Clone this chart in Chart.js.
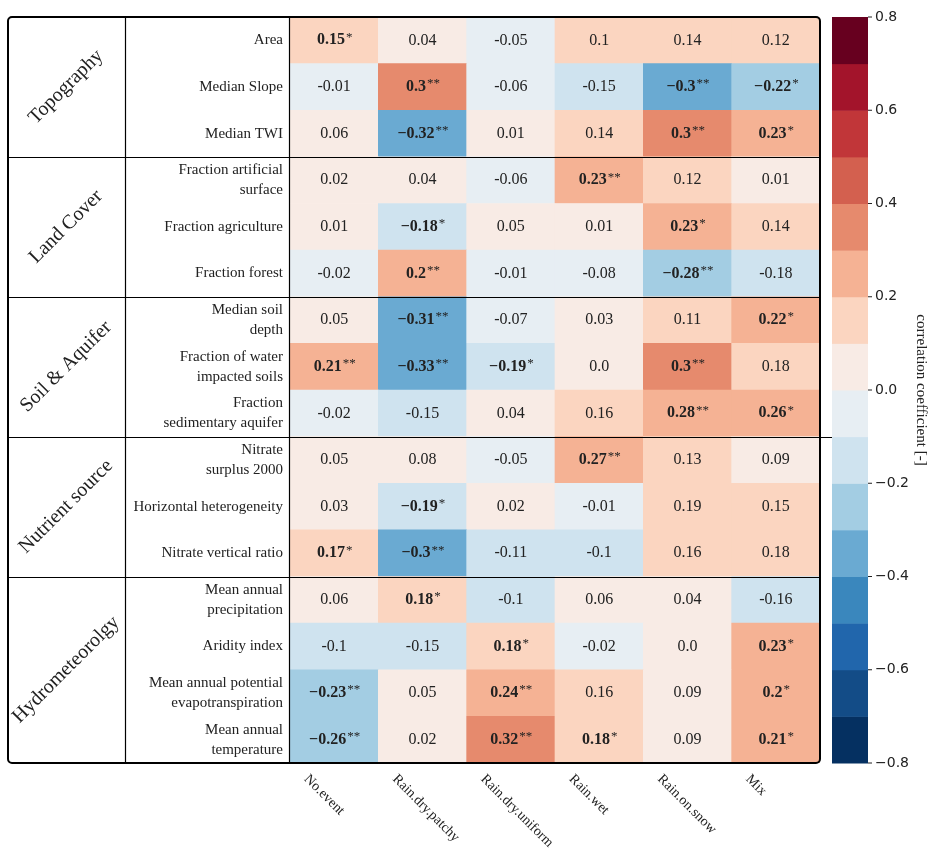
<!DOCTYPE html>
<html><head><meta charset="utf-8">
<script src="https://cdn.jsdelivr.net/npm/chart.js@4.4.0/dist/chart.umd.min.js"></script>
<style>body{margin:0;background:#fff}canvas{display:block}</style>
</head><body>
<canvas id="c" width="929" height="851"></canvas>
<script>
const columns = ['No.event', 'Rain.dry.patchy', 'Rain.dry.uniform', 'Rain.wet', 'Rain.on.snow', 'Mix'];
const rowLabels = [
  ['Area'], ['Median Slope'], ['Median TWI'],
  ['Fraction artificial', 'surface'], ['Fraction agriculture'], ['Fraction forest'],
  ['Median soil', 'depth'], ['Fraction of water', 'impacted soils'], ['Fraction', 'sedimentary aquifer'],
  ['Nitrate', 'surplus 2000'], ['Horizontal heterogeneity'], ['Nitrate vertical ratio'],
  ['Mean annual', 'precipitation'], ['Aridity index'], ['Mean annual potential', 'evapotranspiration'], ['Mean annual', 'temperature']
];
const groups = ['Topography', 'Land Cover', 'Soil & Aquifer', 'Nutrient source', 'Hydrometeorolgy'];
const groupSizes = [3, 3, 3, 3, 4];
const values = [
  [0.15, 0.04, -0.05, 0.1, 0.14, 0.12],
  [-0.01, 0.3, -0.06, -0.15, -0.3, -0.22],
  [0.06, -0.32, 0.01, 0.14, 0.3, 0.23],
  [0.02, 0.04, -0.06, 0.23, 0.12, 0.01],
  [0.01, -0.18, 0.05, 0.01, 0.23, 0.14],
  [-0.02, 0.2, -0.01, -0.08, -0.28, -0.18],
  [0.05, -0.31, -0.07, 0.03, 0.11, 0.22],
  [0.21, -0.33, -0.19, 0.0, 0.3, 0.18],
  [-0.02, -0.15, 0.04, 0.16, 0.28, 0.26],
  [0.05, 0.08, -0.05, 0.27, 0.13, 0.09],
  [0.03, -0.19, 0.02, -0.01, 0.19, 0.15],
  [0.17, -0.3, -0.11, -0.1, 0.16, 0.18],
  [0.06, 0.18, -0.1, 0.06, 0.04, -0.16],
  [-0.1, -0.15, 0.18, -0.02, 0.0, 0.23],
  [-0.23, 0.05, 0.24, 0.16, 0.09, 0.2],
  [-0.26, 0.02, 0.32, 0.18, 0.09, 0.21]
];
const stars = [
  ['*', '', '', '', '', ''],
  ['', '**', '', '', '**', '*'],
  ['', '**', '', '', '**', '*'],
  ['', '', '', '**', '', ''],
  ['', '*', '', '', '*', ''],
  ['', '**', '', '', '**', ''],
  ['', '**', '', '', '', '*'],
  ['**', '**', '*', '', '**', ''],
  ['', '', '', '', '**', '*'],
  ['', '', '', '**', '', ''],
  ['', '*', '', '', '', ''],
  ['*', '**', '', '', '', ''],
  ['', '*', '', '', '', ''],
  ['', '', '*', '', '', '*'],
  ['**', '', '**', '', '', '*'],
  ['**', '', '**', '*', '', '*']
];
const cbTicks = [-0.8, -0.6, -0.4, -0.2, 0.0, 0.2, 0.4, 0.6, 0.8];
// 16 bins from -0.8 to 0.8
const palette = ['#053061', '#134c87', '#2166ac', '#3a87bd', '#6aaad2', '#a3cde3', '#cfe3ef', '#e7eef3',
  '#f8ebe5', '#fbd5c0', '#f5b294', '#e68a6d', '#d3604f', '#c13639', '#a3142b', '#67001f'];

function colorFor(v) {
  let b = v >= 0 ? Math.floor(v * 10 + 1e-9) : Math.floor(v * 10 - 1e-9);
  return palette[Math.max(0, Math.min(15, b + 8))];
}
function fmt(v, bold) {
  if (v === 0) return '0.0';
  if (v < 0 && bold) return '\u2212' + String(-v);
  return String(v);
}

const nRows = values.length;
// stacked bars: dataset k draws row (nRows-1-k) so the first row is on top
const datasets = [];
for (let k = 0; k < nRows; k++) {
  const r = nRows - 1 - k;
  datasets.push({
    data: columns.map(() => 1),
    backgroundColor: values[r].map(colorFor),
    borderWidth: 0,
    barPercentage: 1, categoryPercentage: 1
  });
}

const SERIF = '"Liberation Serif", "DejaVu Serif", serif';

const decor = {
  id: 'decor',
  afterDatasetsDraw(chart) {
    const ctx = chart.ctx, xs = chart.scales.x, ys = chart.scales.y, ca = chart.chartArea;
    const rowY = r => ys.getPixelForValue(nRows - r - 0.5);
    const rowTop = r => ys.getPixelForValue(nRows - r);
    ctx.save();
    ctx.fillStyle = '#222';
    // cell text
    for (let r = 0; r < nRows; r++) {
      for (let c = 0; c < columns.length; c++) {
        const x = xs.getPixelForValue(c), y = rowY(r);
        const s = stars[r][c], t = fmt(values[r][c], !!s);
        const mainFont = (s ? 'bold ' : '') + '16px ' + SERIF;
        ctx.font = mainFont;
        const w1 = ctx.measureText(t).width;
        ctx.font = '13px ' + SERIF;
        const w2 = s ? ctx.measureText(s).width : 0;
        const x0 = x - (w1 + w2) / 2;
        ctx.textBaseline = 'middle'; ctx.textAlign = 'left';
        ctx.font = mainFont; ctx.fillText(t, x0, y);
        if (s) { ctx.font = '13px ' + SERIF; ctx.fillText(s, x0 + w1 + 1, y - 3); }
      }
    }
    // row labels
    ctx.font = '15px ' + SERIF; ctx.textAlign = 'right';
    for (let r = 0; r < nRows; r++) {
      const lines = rowLabels[r], y = rowY(r);
      lines.forEach((l, i) => ctx.fillText(l, ca.left - 7, y + (i - (lines.length - 1) / 2) * 20));
    }
    // group labels and separators
    let start = 0;
    ctx.strokeStyle = '#000'; ctx.lineWidth = 1.2;
    groups.forEach((g, gi) => {
      const end = start + groupSizes[gi];
      const yc = (rowTop(start) + rowTop(end)) / 2;
      ctx.save();
      ctx.translate(66, yc); ctx.rotate(-Math.PI / 4);
      ctx.font = '20px ' + SERIF; ctx.textAlign = 'center';
      ctx.fillText(g, 0, 0);
      ctx.restore();
      if (gi > 0) {
        const yl = Math.round(rowTop(start)) + 0.5;
        ctx.beginPath(); ctx.moveTo(8, yl); ctx.lineTo(gi === 3 ? 836 : ca.right, yl); ctx.stroke();
      }
      start = end;
    });
    // vertical dividers
    ctx.beginPath(); ctx.moveTo(125.5, ca.top); ctx.lineTo(125.5, ca.bottom);
    ctx.moveTo(ca.left - 0.5, ca.top); ctx.lineTo(ca.left - 0.5, ca.bottom); ctx.stroke();
    // outer frame
    ctx.lineWidth = 2;
    ctx.beginPath(); ctx.roundRect(8, ca.top, ca.right - 8, ca.bottom - ca.top, 4); ctx.stroke();
    // x labels
    ctx.font = '14px ' + SERIF; ctx.textAlign = 'left';
    columns.forEach((c, i) => {
      ctx.save();
      ctx.translate(xs.getPixelForValue(i) - 28, ca.bottom + 14);
      ctx.rotate(Math.PI / 4);
      ctx.fillText(c, 0, 0);
      ctx.restore();
    });
    // colorbar
    const cbL = 832, cbR = 868, cbT = ca.top, cbB = ca.bottom;
    const cy = v => cbB - (v + 0.8) / 1.6 * (cbB - cbT);
    palette.forEach((col, i) => {
      const v0 = -0.8 + i * 0.1;
      ctx.fillStyle = col;
      ctx.fillRect(cbL, cy(v0 + 0.1), cbR - cbL, cy(v0) - cy(v0 + 0.1) + 0.5);
    });
    ctx.fillStyle = '#222'; ctx.strokeStyle = '#222'; ctx.lineWidth = 1;
    ctx.font = '14px "DejaVu Sans", sans-serif'; ctx.textBaseline = 'middle';
    cbTicks.forEach(v => {
      const y = cy(v);
      ctx.beginPath(); ctx.moveTo(cbR, y); ctx.lineTo(cbR + 4, y); ctx.stroke();
      ctx.fillText((v < 0 ? '\u2212' : '') + Math.abs(v).toFixed(1), cbR + 7, y);
    });
    ctx.save();
    ctx.translate(921, (cbT + cbB) / 2); ctx.rotate(Math.PI / 2);
    ctx.textAlign = 'center'; ctx.font = '15px ' + SERIF;
    ctx.fillText('correlation coefficient [-]', 0, 0);
    ctx.restore();
    ctx.restore();
  }
};

new Chart(document.getElementById('c'), {
  type: 'bar',
  data: { labels: columns, datasets },
  options: {
    responsive: false, animation: false, devicePixelRatio: 1,
    layout: { padding: { left: 290, right: 109, top: 17, bottom: 88 } },
    plugins: { legend: { display: false }, tooltip: { enabled: false } },
    scales: {
      x: { display: false, stacked: true },
      y: { display: false, stacked: true, min: 0, max: nRows }
    }
  },
  plugins: [decor]
});
</script>
</body></html>
